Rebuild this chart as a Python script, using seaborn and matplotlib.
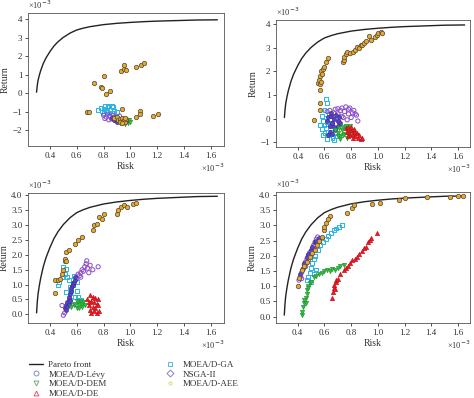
import numpy as np
import pandas as pd
import matplotlib
matplotlib.use("Agg")
import matplotlib.pyplot as plt
from matplotlib.lines import Line2D
import seaborn as sns

# All values in units of 1e-3
pareto_x = [0.30, 0.305, 0.31, 0.32, 0.33, 0.35, 0.37, 0.40, 0.43, 0.46, 0.50, 0.55, 0.60, 0.65, 0.70,
            0.80, 0.90, 1.00, 1.10, 1.20, 1.30, 1.40, 1.50, 1.65]
pareto_y = [0.05, 0.40, 0.65, 0.95, 1.20, 1.60, 1.90, 2.25, 2.55, 2.78, 3.02, 3.25, 3.42, 3.52, 3.60,
            3.71, 3.78, 3.83, 3.87, 3.90, 3.92, 3.94, 3.96, 3.97]

# ---- Panel 1 (top-left)
p1_aee_x = [0.68, 0.69, 0.73, 0.78, 0.79, 0.80, 0.82, 0.85, 0.93, 0.95, 0.95, 0.97, 1.04, 1.08, 1.10,
            0.94, 1.04, 1.07, 1.07, 1.17, 1.21, 0.88, 0.90, 0.91, 0.92, 0.93, 0.94, 0.95, 0.96, 0.97,
            0.92, 0.94, 0.96]
p1_aee_y = [-1.0, -1.0, 0.56, 0.31, 0.28, 0.94, -0.05, 0.13, 1.2, 1.28, 1.52, 1.27, 1.43, 1.5, 1.65,
            -0.88, -1.28, -0.97, -1.15, -1.22, -1.15, -1.35, -1.3, -1.45, -1.4, -1.5, -1.35, -1.45, -1.55, -1.4,
            -1.55, -1.6, -1.35]
p1_ga_x = [0.76, 0.78, 0.80, 0.81, 0.83, 0.84, 0.86, 0.87, 0.79, 0.82, 0.85, 0.88, 0.80, 0.83, 0.86, 0.90]
p1_ga_y = [-0.9, -0.8, -0.85, -0.72, -0.75, -0.7, -0.72, -0.78, -1.0, -0.95, -0.9, -0.95, -1.1, -1.05, -1.1, -1.05]
p1_ns_x = [0.80, 0.82, 0.83, 0.85, 0.86, 0.88, 0.84, 0.87, 0.90, 0.81, 0.89, 0.92]
p1_ns_y = [-1.2, -1.3, -1.15, -1.25, -1.4, -1.3, -1.45, -1.2, -1.35, -1.38, -1.5, -1.25]
p1_levy_x = [0.86, 0.88, 0.89, 0.91, 0.92, 0.93, 0.90, 0.94]
p1_levy_y = [-1.35, -1.45, -1.3, -1.5, -1.42, -1.58, -1.55, -1.48]
p1_dem_x = [0.92, 0.94, 0.95, 0.96, 0.97, 0.98, 0.99, 1.00, 0.96, 0.93]
p1_dem_y = [-1.6, -1.65, -1.55, -1.7, -1.5, -1.62, -1.45, -1.55, -1.4, -1.5]
p1_de_x = [0.90, 0.92, 0.94, 0.95, 0.97]
p1_de_y = [-1.3, -1.4, -1.35, -1.5, -1.45]

# ---- Panel 2 (top-right)
p2_aee_x = [0.525, 0.55, 0.56, 0.565, 0.57, 0.575, 0.58, 0.59, 0.60, 0.61, 0.625, 0.57, 0.565, 0.57, 0.575,
            0.74, 0.745, 0.75, 0.76, 0.77, 0.79, 0.81, 0.83, 0.845, 0.86, 0.87, 0.88, 0.895, 0.91, 0.93,
            0.95, 0.975, 0.99, 1.00, 1.02, 1.03]
p2_aee_y = [-0.05, 1.5, 1.64, 1.45, 1.8, 2.0, 1.9, 2.1, 2.2, 2.42, 2.56, 1.2, 0.38, 0.65, 1.55,
            2.38, 2.5, 2.63, 2.72, 2.84, 2.8, 2.84, 2.92, 3.05, 3.0, 3.12, 3.1, 3.2, 3.3, 3.5,
            3.35, 3.48, 3.55, 3.62, 3.68, 3.65]
p2_ga_x = [0.61, 0.62, 0.60, 0.58, 0.59, 0.60, 0.62, 0.63, 0.58, 0.60, 0.61, 0.63, 0.65, 0.66, 0.64, 0.67,
           0.62, 0.59, 0.61, 0.68, 0.69, 0.57, 0.64, 0.66]
p2_ga_y = [0.82, 0.65, 0.35, 0.1, -0.1, -0.25, -0.15, 0.2, -0.45, -0.6, -0.4, -0.7, -0.55, -0.8, -0.3, -0.9,
           -0.85, -0.7, 0.05, -0.6, -0.75, -0.25, 0.0, -0.2]
p2_ns_x = [0.62, 0.64, 0.65, 0.67, 0.68, 0.70, 0.72, 0.73, 0.75, 0.76, 0.78, 0.79, 0.80, 0.82, 0.84, 0.85,
           0.69, 0.71, 0.74, 0.77, 0.81, 0.66, 0.70, 0.73, 0.78, 0.83]
p2_ns_y = [0.3, 0.35, 0.1, 0.25, 0.4, 0.2, 0.35, 0.1, 0.3, 0.5, 0.2, 0.45, 0.05, 0.35, 0.15, -0.1,
           0.0, -0.15, 0.05, -0.05, 0.25, -0.2, 0.42, 0.45, 0.4, 0.2]
p2_levy_x = [0.62, 0.63, 0.64, 0.65, 0.66, 0.67, 0.68, 0.69, 0.70, 0.71, 0.64, 0.66, 0.68, 0.72, 0.65, 0.67, 0.70, 0.63]
p2_levy_y = [-0.1, 0.05, -0.3, 0.1, -0.2, 0.0, -0.4, 0.15, -0.1, 0.05, -0.55, -0.65, -0.5, -0.2, 0.25, -0.35, -0.3, -0.7]
p2_dem_x = [0.68, 0.70, 0.71, 0.72, 0.73, 0.74, 0.75, 0.76, 0.77, 0.78, 0.79, 0.80, 0.72, 0.74, 0.76, 0.70, 0.78]
p2_dem_y = [-0.5, -0.6, -0.4, -0.75, -0.5, -0.35, -0.65, -0.45, -0.8, -0.55, -0.3, -0.6, -0.85, -0.7, -0.3, -0.75, -0.7]
p2_de_x = [0.76, 0.77, 0.78, 0.79, 0.80, 0.81, 0.82, 0.83, 0.84, 0.85, 0.86, 0.87, 0.88, 0.79, 0.81, 0.83, 0.78, 0.80]
p2_de_y = [-0.4, -0.55, -0.35, -0.7, -0.5, -0.65, -0.45, -0.75, -0.6, -0.8, -0.7, -0.85, -0.82, -0.5, -0.8, -0.55, -0.75, -0.35]

# ---- Panel 3 (bottom-left)
p3_aee_x = [0.44, 0.44, 0.46, 0.475, 0.49, 0.50, 0.51, 0.52, 0.54, 0.59, 0.61, 0.64, 0.72, 0.73, 0.75, 0.77,
            0.79, 0.805, 0.90, 0.91, 0.93, 0.95, 0.975, 1.02, 1.04, 0.51, 0.52]
p3_aee_y = [0.72, 1.14, 1.14, 1.2, 1.37, 1.5, 1.8, 2.1, 2.15, 2.38, 2.49, 2.6, 2.85, 3.0, 3.05, 3.27,
            3.2, 3.36, 3.38, 3.5, 3.6, 3.66, 3.6, 3.7, 3.74, 1.85, 1.78]
p3_ga_x = [0.50, 0.51, 0.52, 0.54, 0.55, 0.56, 0.60, 0.59, 0.63, 0.46, 0.47, 0.53, 0.57, 0.58, 0.61, 0.62,
           0.55, 0.52, 0.49, 0.60]
p3_ga_y = [1.6, 1.37, 1.53, 1.14, 0.92, 0.8, 0.8, 0.58, 0.47, 0.97, 1.1, 1.25, 1.0, 1.3, 0.6, 0.35,
           0.5, 0.75, 1.25, 1.1]
p3_levy_x = [0.51, 0.52, 0.525, 0.53, 0.54, 0.545, 0.55, 0.555, 0.56, 0.565, 0.57, 0.575, 0.58, 0.585, 0.59,
             0.54, 0.55, 0.52]
p3_levy_y = [0.2, 0.3, 0.25, 0.4, 0.5, 0.6, 0.7, 0.8, 0.9, 0.95, 1.0, 1.05, 1.1, 1.15, 1.25, 0.35, 0.45, 0.15]
p3_ns_x = [0.49, 0.50, 0.51, 0.60, 0.62, 0.63, 0.64, 0.65, 0.66, 0.675, 0.68, 0.70, 0.72, 0.76, 0.61, 0.63, 0.67, 0.69]
p3_ns_y = [0.3, -0.03, 0.05, 1.2, 1.3, 1.4, 1.5, 1.45, 1.6, 1.8, 1.55, 1.65, 1.5, 1.6, 1.35, 1.25, 1.7, 1.4]
p3_dem_x = [0.56, 0.58, 0.59, 0.60, 0.61, 0.62, 0.63, 0.64, 0.65, 0.66, 0.60, 0.62, 0.64]
p3_dem_y = [0.25, 0.3, 0.35, 0.2, 0.4, 0.3, 0.45, 0.35, 0.4, 0.3, 0.45, 0.22, 0.25]
p3_de_x = [0.68, 0.69, 0.70, 0.70, 0.71, 0.72, 0.72, 0.73, 0.73, 0.74, 0.74, 0.75, 0.75, 0.76, 0.77, 0.71, 0.69, 0.76]
p3_de_y = [0.5, 0.3, 0.65, 0.15, 0.45, 0.25, 0.6, 0.1, 0.4, 0.55, 0.2, 0.35, 0.05, 0.3, 0.1, 0.05, 0.4, 0.5]

# ---- Panel 4 (bottom-right)
p4_aee_x = [0.40, 0.41, 0.43, 0.47, 0.51, 0.545, 0.58, 0.595, 0.61, 0.645, 0.77, 0.81, 0.825, 0.955, 1.02,
            1.155, 1.205, 1.37, 1.54, 1.60, 1.64, 0.45, 0.49, 0.53, 0.56, 0.60, 0.63]
p4_aee_y = [1.0, 1.26, 1.53, 1.8, 2.08, 2.36, 2.63, 2.85, 3.07, 3.31, 3.42, 3.56, 3.67, 3.7, 3.75,
            3.84, 3.89, 3.95, 3.95, 3.97, 3.97, 1.65, 1.95, 2.2, 2.5, 2.95, 3.2]
p4_ns_x = [0.41, 0.42, 0.43, 0.44, 0.45, 0.46, 0.47, 0.48, 0.49, 0.50, 0.51, 0.52, 0.53, 0.54, 0.55,
           0.43, 0.46, 0.48, 0.50, 0.52]
p4_ns_y = [1.2, 1.3, 1.45, 1.55, 1.7, 1.8, 1.9, 2.0, 2.1, 2.15, 2.25, 2.35, 2.45, 2.55, 2.62,
           1.25, 1.65, 1.85, 2.05, 2.3]
p4_levy_x = [0.42, 0.44, 0.45, 0.47, 0.48, 0.50, 0.51, 0.53, 0.54, 0.56]
p4_levy_y = [1.4, 1.6, 1.75, 1.95, 2.05, 2.2, 2.3, 2.45, 2.5, 2.6]
p4_ga_x = [0.48, 0.49, 0.50, 0.51, 0.52, 0.53, 0.55, 0.57, 0.59, 0.61, 0.63, 0.65, 0.67, 0.69, 0.71, 0.73,
           0.50, 0.52, 0.54, 0.47]
p4_ga_y = [1.3, 1.45, 1.6, 1.75, 1.9, 2.0, 2.2, 2.35, 2.45, 2.55, 2.65, 2.75, 2.85, 2.9, 2.95, 3.0,
           1.15, 1.4, 1.55, 1.2]
p4_dem_x = [0.43, 0.43, 0.44, 0.45, 0.46, 0.46, 0.47, 0.47, 0.48, 0.49, 0.50, 0.52, 0.54, 0.56, 0.58, 0.60,
            0.62, 0.64, 0.66, 0.68, 0.70, 0.72, 0.745, 0.45, 0.48]
p4_dem_y = [0.05, 0.15, 0.3, 0.45, 0.6, 0.44, 0.75, 0.88, 1.0, 1.1, 1.15, 1.3, 1.35, 1.4, 1.45, 1.5,
            1.55, 1.5, 1.58, 1.55, 1.6, 1.65, 1.7, 0.55, 0.95]
p4_de_x = [0.66, 0.665, 0.67, 0.675, 0.68, 0.685, 0.69, 0.70, 0.72, 0.745, 0.76, 0.78, 0.795, 0.81, 0.83,
           0.845, 0.86, 0.88, 0.895, 0.91, 0.93, 0.945, 0.95, 0.995]
p4_de_y = [0.6, 0.8, 0.95, 1.05, 0.9, 1.15, 1.2, 1.25, 1.4, 1.53, 1.6, 1.65, 1.75, 1.85, 1.9,
           1.97, 2.05, 2.15, 2.25, 2.3, 2.45, 2.52, 2.6, 2.76]

methods = ["MOEA/D-Lévy", "MOEA/D-DEM", "MOEA/D-DE", "MOEA/D-GA", "NSGA-II", "MOEA/D-AEE"]

panels = [
    {"MOEA/D-AEE": (p1_aee_x, p1_aee_y), "MOEA/D-GA": (p1_ga_x, p1_ga_y), "NSGA-II": (p1_ns_x, p1_ns_y),
     "MOEA/D-Lévy": (p1_levy_x, p1_levy_y), "MOEA/D-DEM": (p1_dem_x, p1_dem_y), "MOEA/D-DE": (p1_de_x, p1_de_y)},
    {"MOEA/D-AEE": (p2_aee_x, p2_aee_y), "MOEA/D-GA": (p2_ga_x, p2_ga_y), "NSGA-II": (p2_ns_x, p2_ns_y),
     "MOEA/D-Lévy": (p2_levy_x, p2_levy_y), "MOEA/D-DEM": (p2_dem_x, p2_dem_y), "MOEA/D-DE": (p2_de_x, p2_de_y)},
    {"MOEA/D-AEE": (p3_aee_x, p3_aee_y), "MOEA/D-GA": (p3_ga_x, p3_ga_y), "NSGA-II": (p3_ns_x, p3_ns_y),
     "MOEA/D-Lévy": (p3_levy_x, p3_levy_y), "MOEA/D-DEM": (p3_dem_x, p3_dem_y), "MOEA/D-DE": (p3_de_x, p3_de_y)},
    {"MOEA/D-AEE": (p4_aee_x, p4_aee_y), "MOEA/D-GA": (p4_ga_x, p4_ga_y), "NSGA-II": (p4_ns_x, p4_ns_y),
     "MOEA/D-Lévy": (p4_levy_x, p4_levy_y), "MOEA/D-DEM": (p4_dem_x, p4_dem_y), "MOEA/D-DE": (p4_de_x, p4_de_y)},
]

styles = {
    "MOEA/D-GA":   dict(marker="s", facecolor="none", edgecolor="#27b4e4", linewidth=0.7, s=8),
    "NSGA-II":     dict(marker="o", facecolor="none", edgecolor="#8a4cc8", linewidth=0.7, s=9),
    "MOEA/D-Lévy": dict(marker="o", facecolor="#5a44c0", edgecolor="#3c2d9e", linewidth=0.5, s=8),
    "MOEA/D-DEM":  dict(marker="v", facecolor="#3cba48", edgecolor="#1f9a2e", linewidth=0.5, s=9),
    "MOEA/D-DE":   dict(marker="^", facecolor="#ea1c24", edgecolor="#c8101a", linewidth=0.5, s=9),
    "MOEA/D-AEE":  dict(marker="o", facecolor="#eaa928", edgecolor="#5a5040", linewidth=0.55, s=10),
}
draw_order = ["MOEA/D-GA", "NSGA-II", "MOEA/D-Lévy", "MOEA/D-DEM", "MOEA/D-DE", "MOEA/D-AEE"]

sns.set_style("ticks")
plt.rcParams["font.family"] = ["Liberation Serif", "DejaVu Serif"]
plt.rcParams["axes.linewidth"] = 0.6

fig = plt.figure(figsize=(4.74, 3.98), dpi=100)
W, H = 474.0, 398.0
boxes = [(28, 13, 224, 146), (276, 20, 470, 147), (28, 193, 224, 323), (276, 192, 470, 323)]
xlims = [(0.236, 1.70), (0.237, 1.69), (0.236, 1.70), (0.238, 1.69)]
ylims = [(-2.87, 4.34), (-1.2, 4.18), (-0.29, 4.08), (-0.21, 4.1)]
yticks = [np.arange(-2, 4.01, 1), np.arange(-1, 4.01, 1), np.arange(0, 4.01, 0.5), np.arange(0, 4.01, 0.5)]
yfmt = ["{:.0f}", "{:.0f}", "{:.1f}", "{:.1f}"]

pareto_df = pd.DataFrame({"Risk": pareto_x, "Return": pareto_y})

for i, (l, t, r, b) in enumerate(boxes):
    ax = fig.add_axes([l / W, 1 - b / H, (r - l) / W, (b - t) / H])
    sns.lineplot(data=pareto_df, x="Risk", y="Return", sort=False, color="#222222", linewidth=1.0, ax=ax)
    for m in draw_order:
        xs, ys = panels[i][m]
        df = pd.DataFrame({"Risk": xs, "Return": ys})
        st = styles[m]
        sns.scatterplot(data=df, x="Risk", y="Return", ax=ax, marker=st["marker"], s=st["s"],
                        facecolor=st["facecolor"], edgecolor=st["edgecolor"], linewidth=st["linewidth"],
                        zorder=3)
    ax.set_xlim(*xlims[i])
    ax.set_ylim(*ylims[i])
    xt = np.arange(0.4, 1.61, 0.2)
    ax.set_xticks(xt)
    ax.set_xticklabels(["{:.1f}".format(v) for v in xt])
    ax.set_yticks(yticks[i])
    ax.set_yticklabels([yfmt[i].format(v).replace("-", "\u2212") for v in yticks[i]])
    ax.tick_params(labelsize=6.5, length=2.5, width=0.6, pad=1.5, colors="#333333")
    for sp in ax.spines.values():
        sp.set_visible(True)
        sp.set_color("#555555")
    ax.set_xlabel("Risk", fontsize=7, labelpad=2, color="#333333")
    ax.set_ylabel("Return", fontsize=7, labelpad=2, color="#333333")
    ax.text(0.0, 1.015, "\u00d710$^{-3}$", transform=ax.transAxes, ha="left", va="bottom",
            fontsize=6, color="#333333")
    ax.text(1.0, -0.12, "\u00d710$^{-3}$", transform=ax.transAxes, ha="right", va="top",
            fontsize=6, color="#333333")

handles = [Line2D([0], [0], color="#222222", lw=1.0)]
labels = ["Pareto front"]
legend_style = {
    "MOEA/D-Lévy": dict(marker="o", mfc="none", mec="#7f8fc8"),
    "MOEA/D-DEM": dict(marker="v", mfc="none", mec="#6fae80"),
    "MOEA/D-DE": dict(marker="^", mfc="none", mec="#d85a66"),
    "MOEA/D-GA": dict(marker="s", mfc="none", mec="#4fbcd8"),
    "NSGA-II": dict(marker="D", mfc="none", mec="#8a7cc8"),
    "MOEA/D-AEE": dict(marker="*", mfc="none", mec="#f0e0a0"),
}
for m in methods:
    st = legend_style[m]
    handles.append(Line2D([0], [0], linestyle="none", markersize=3.5, markeredgewidth=0.7, **st))
    labels.append(m)

fig.legend(handles, labels, ncol=2, loc="upper left", bbox_to_anchor=(24 / W, 1 - 356 / H),
           frameon=False, fontsize=6.5, handlelength=1.6, handletextpad=0.6, labelspacing=0.15,
           columnspacing=6.2, borderpad=0.0, labelcolor="#333333")

fig.savefig("out.png", dpi=100)
